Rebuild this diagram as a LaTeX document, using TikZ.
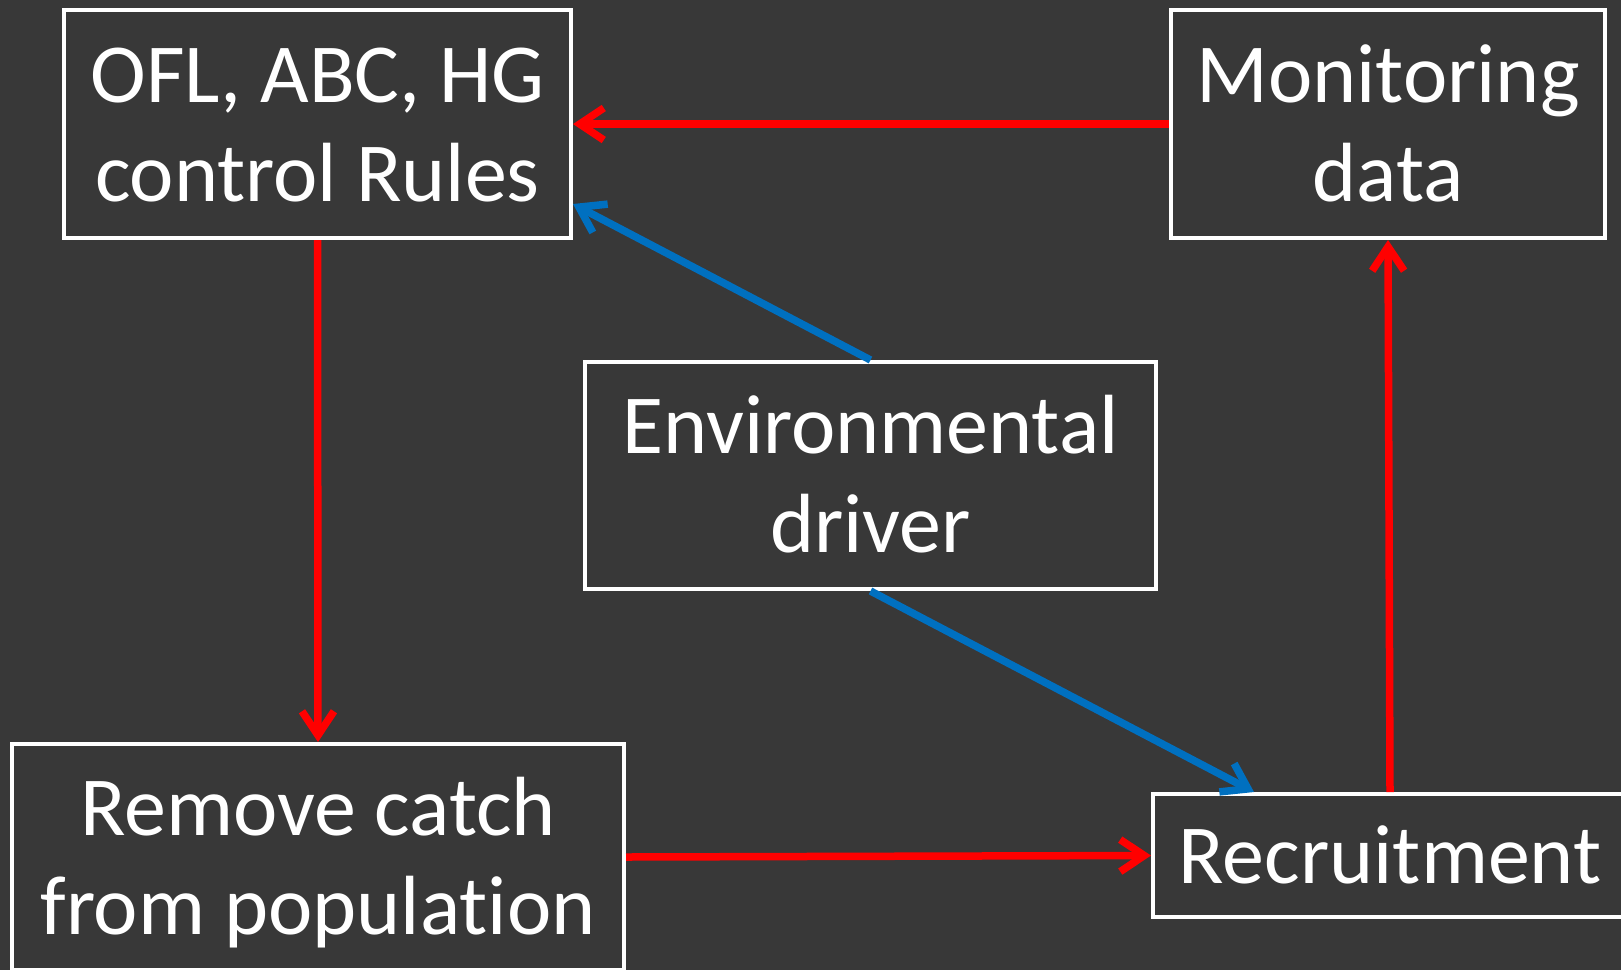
\documentclass[tikz,border=0pt]{standalone}
\usepackage{fontspec}
\setmainfont[Ligatures=NoCommon]{Carlito}
\usetikzlibrary{arrows.meta,calc}
\definecolor{bg}{RGB}{56,56,56}
\definecolor{ared}{RGB}{255,0,0}
\definecolor{ablue}{RGB}{0,112,192}
\newcommand\mystrut{\rule[-20pt]{0pt}{95pt}}
\begin{document}
\begin{tikzpicture}[x=1pt,y=-1pt,
  box/.style={draw=white, line width=4pt, inner sep=0pt, align=center, text=white,
    font=\fontsize{84}{99}\selectfont},
  redarrow/.style={draw=ared, line width=7.5pt, -{Straight Barb[length=24pt,width=32pt]}},
  bluearrow/.style={draw=ablue, line width=7.5pt, -{Straight Barb[length=24pt,width=32pt]}}]
\fill[bg] (0,0) rectangle (1621,970);
\useasboundingbox (0,0) rectangle (1621,970);
\node[box, minimum width=507pt, minimum height=228pt] (ofl) at (317.5,124) {\mystrut OFL, ABC, HG\\\mystrut control Rules};
\node[box, minimum width=434pt, minimum height=228pt] (mon) at (1388,124) {\mystrut Monitoring\\\mystrut data};
\node[box, minimum width=571pt, minimum height=227pt] (env) at (870.5,475.5) {\mystrut Environmental\\\mystrut driver};
\node[box, minimum width=612pt, minimum height=226pt] (rem) at (318,857) {\mystrut Remove catch\\\mystrut from population};
\node[box, minimum width=474pt, minimum height=123pt] (rec) at (1390,855.5) {\mystrut Recruitment};
\draw[redarrow] (mon.west) -- (ofl.east);
\draw[bluearrow] (env.north) -- ($(ofl.east)+(0,80)$);
\draw[redarrow] (ofl.south) -- (rem.north);
\draw[bluearrow] (env.south) -- ($(rec.north west)+(103,0)$);
\draw[redarrow] (rem.east) -- (rec.west);
\draw[redarrow] (rec.north) -- (mon.south);
\end{tikzpicture}
\end{document}
